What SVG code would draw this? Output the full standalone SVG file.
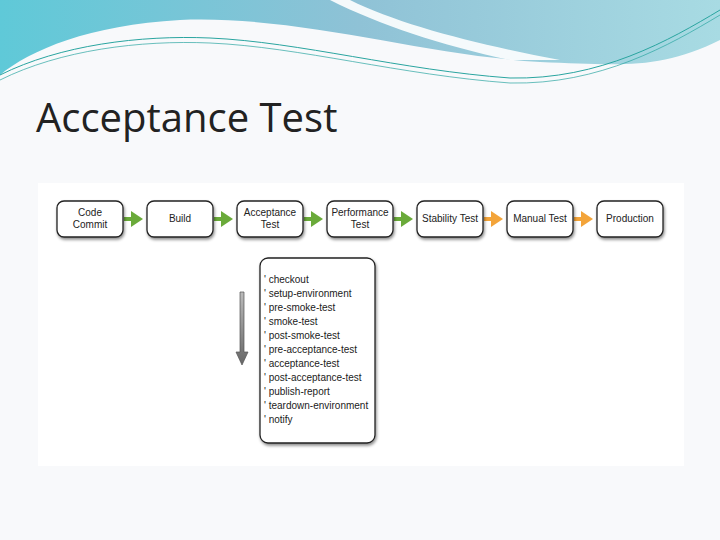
<svg xmlns="http://www.w3.org/2000/svg" width="720" height="540" viewBox="0 0 720 540">
<defs>
<linearGradient id="sky" x1="0" y1="0" x2="1" y2="0"><stop offset="0" stop-color="#5fc9d8"/><stop offset="0.5" stop-color="#8fc2d6"/><stop offset="1" stop-color="#a8dbe3"/></linearGradient>
<linearGradient id="ga" x1="0" y1="0" x2="0" y2="1"><stop offset="0" stop-color="#bbb"/><stop offset="1" stop-color="#666"/></linearGradient>
<filter id="sh" x="-10%" y="-10%" width="130%" height="140%"><feDropShadow dx="1" dy="2" stdDeviation="1.5" flood-color="#000" flood-opacity="0.45"/></filter>
<marker id="mg" markerWidth="4" markerHeight="4" refX="2" refY="2" orient="auto" markerUnits="strokeWidth"><path d="M0,0 L3,2 L0,4 z" fill="#6aaa3a"/></marker>
<marker id="mo" markerWidth="4" markerHeight="4" refX="2" refY="2" orient="auto" markerUnits="strokeWidth"><path d="M0,0 L3,2 L0,4 z" fill="#f3a43a"/></marker>
</defs>
<style>
.n rect{fill:#fff;stroke:#222;stroke-width:1.3;filter:url(#sh)}
.n text{font-family:"Liberation Sans",Arial,sans-serif;font-size:10px;fill:#222;text-anchor:middle}
.g{stroke:#6aaa3a;stroke-width:4;marker-end:url(#mg)}
.o{stroke:#f3a43a;stroke-width:4;marker-end:url(#mo)}
.li{font-family:"Liberation Sans",Arial,sans-serif;font-size:9.5px;fill:#222}
</style>
<rect width="720" height="540" fill="#f8f9fb"/>
<path d="M0,0 H720 V40 C660,70 620,65 540,62 C420,55 300,15 180,20 C90,25 30,50 0,75 Z" fill="url(#sky)"/>
<path d="M330,0 C380,25 440,45 510,60 L560,60 C480,45 400,25 350,0 Z" fill="#fff" opacity="0.9"/>
<path d="M0,75 C60,45 140,35 210,38 C300,42 400,70 510,78 C600,80 670,40 720,10" fill="none" stroke="#2aa5a0" stroke-width="1"/>
<path d="M0,80 C60,50 140,40 210,43 C300,47 400,75 510,83 C600,85 670,45 720,15" fill="none" stroke="#2aa5a0" stroke-width="0.7"/>
<text x="36" y="132" font-family="'Open Sans','Liberation Sans',sans-serif" font-size="40" fill="#222">Acceptance Test</text>
<rect x="38" y="183" width="646" height="283" fill="#fff"/>
<g id="connectors">
<line class="g" x1="124" y1="219" x2="139" y2="219"/>
<line class="g" x1="214" y1="219" x2="229" y2="219"/>
<line class="g" x1="304" y1="219" x2="319" y2="219"/>
<line class="g" x1="394" y1="219" x2="409" y2="219"/>
<line class="o" x1="484" y1="219" x2="499" y2="219"/>
<line class="o" x1="574" y1="219" x2="589" y2="219"/>
</g>
<g id="code-commit" class="n"><rect x="57" y="201" width="66" height="36" rx="7"/><text x="90" y="216">Code</text><text x="90" y="228">Commit</text></g>
<g id="build" class="n"><rect x="147" y="201" width="66" height="36" rx="7"/><text x="180" y="222">Build</text></g>
<g id="acceptance" class="n"><rect x="237" y="201" width="66" height="36" rx="7"/><text x="270" y="216">Acceptance</text><text x="270" y="228">Test</text></g>
<g id="performance" class="n"><rect x="327" y="201" width="66" height="36" rx="7"/><text x="360" y="216">Performance</text><text x="360" y="228">Test</text></g>
<g id="stability" class="n"><rect x="417" y="201" width="66" height="36" rx="7"/><text x="450" y="222">Stability Test</text></g>
<g id="manual" class="n"><rect x="507" y="201" width="66" height="36" rx="7"/><text x="540" y="222">Manual Test</text></g>
<g id="production" class="n"><rect x="597" y="201" width="66" height="36" rx="7"/><text x="630" y="222">Production</text></g>
<g id="steps" class="n"><rect x="260" y="258" width="115" height="185" rx="8"/>
<text class="li" style="text-anchor:start" x="264" y="283">' checkout</text>
<text class="li" style="text-anchor:start" x="264" y="297">' setup-environment</text>
<text class="li" style="text-anchor:start" x="264" y="311">' pre-smoke-test</text>
<text class="li" style="text-anchor:start" x="264" y="325">' smoke-test</text>
<text class="li" style="text-anchor:start" x="264" y="339">' post-smoke-test</text>
<text class="li" style="text-anchor:start" x="264" y="353">' pre-acceptance-test</text>
<text class="li" style="text-anchor:start" x="264" y="367">' acceptance-test</text>
<text class="li" style="text-anchor:start" x="264" y="381">' post-acceptance-test</text>
<text class="li" style="text-anchor:start" x="264" y="395">' publish-report</text>
<text class="li" style="text-anchor:start" x="264" y="409">' teardown-environment</text>
<text class="li" style="text-anchor:start" x="264" y="423">' notify</text>
</g>
<g id="flow-arrow"><path d="M240,292 H244 V352 H248 L242,365 L236,352 H240 Z" fill="url(#ga)" stroke="#555" stroke-width="0.7"/></g>
</svg>
